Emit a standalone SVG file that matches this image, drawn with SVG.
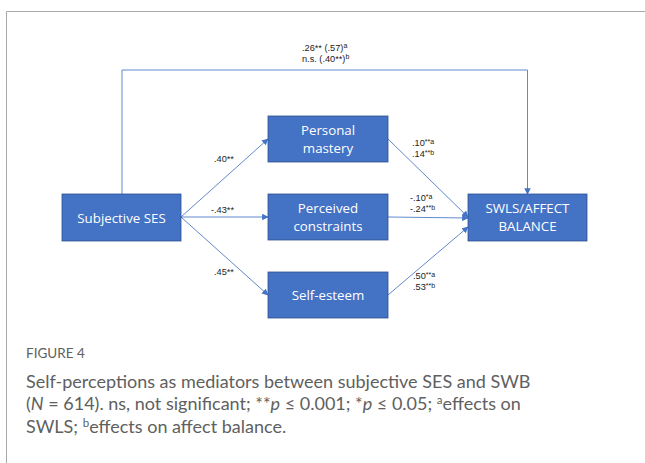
<svg xmlns="http://www.w3.org/2000/svg" width="645" height="463" viewBox="0 0 645 463">
<style>
.box{fill:#4472C4;stroke:#2F528F;stroke-width:0.8}
.bt{font-family:"Open Sans","Liberation Sans",sans-serif;font-size:13.3px;fill:#ffffff;text-anchor:middle}
.lb{font-family:"Liberation Sans",sans-serif;font-size:9.2px;fill:#222}
.sp{font-size:7px}
.ln{stroke:#4F7BC8;stroke-width:0.9;fill:none}
.cap{font-family:Lato,"Open Sans",sans-serif;fill:#606060}
</style>
<defs>
<marker id="ah" viewBox="0 0 10 10" refX="9" refY="5" markerWidth="6.5" markerHeight="6.5" orient="auto" markerUnits="userSpaceOnUse">
<path d="M0,0 L10,5 L0,10 z" fill="#4472C4"/>
</marker>
</defs>
<rect x="0" y="0" width="645" height="463" fill="#ffffff"/>
<path d="M6.5,463 V11.5 H645" fill="none" stroke="#a8a8a8" stroke-width="1"/>
<g id="connectors">
<path class="ln" d="M122,194 V70 H527.5 V194" marker-end="url(#ah)"/>
<line class="ln" x1="181" y1="217" x2="268" y2="139" marker-end="url(#ah)"/>
<line class="ln" x1="181" y1="217" x2="268" y2="217" marker-end="url(#ah)"/>
<line class="ln" x1="181" y1="217" x2="268" y2="295" marker-end="url(#ah)"/>
<line class="ln" x1="388" y1="139" x2="468" y2="217" marker-end="url(#ah)"/>
<line class="ln" x1="388" y1="217" x2="468" y2="218" marker-end="url(#ah)"/>
<line class="ln" x1="388" y1="295" x2="468" y2="227" marker-end="url(#ah)"/>
</g>
<g id="labels">
<text class="lb" x="302" y="51">.26** (.57)<tspan class="sp" dy="-3">a</tspan></text>
<text class="lb" x="302" y="62">n.s. (.40**)<tspan class="sp" dy="-3">b</tspan></text>
<text class="lb" x="214" y="162">.40**</text>
<text class="lb" x="211" y="213">-.43**</text>
<text class="lb" x="214" y="275">.45**</text>
<text class="lb" x="412" y="146">.10<tspan class="sp" dy="-2">**a</tspan></text>
<text class="lb" x="412" y="157">.14<tspan class="sp" dy="-2">**b</tspan></text>
<text class="lb" x="410" y="201">-.10<tspan class="sp" dy="-2">*a</tspan></text>
<text class="lb" x="410" y="212">-.24<tspan class="sp" dy="-2">**b</tspan></text>
<text class="lb" x="413" y="279">.50<tspan class="sp" dy="-2">**a</tspan></text>
<text class="lb" x="413" y="290">.53<tspan class="sp" dy="-2">**b</tspan></text>
</g>
<g id="subjective-ses">
<rect class="box" x="62" y="194" width="119" height="47"/>
<text class="bt" x="121.5" y="223">Subjective SES</text>
</g>
<g id="personal-mastery">
<rect class="box" x="268" y="116" width="120" height="46"/>
<text class="bt" x="328" y="135">Personal</text>
<text class="bt" x="328" y="153">mastery</text>
</g>
<g id="perceived-constraints">
<rect class="box" x="268" y="194" width="120" height="46"/>
<text class="bt" x="328" y="213">Perceived</text>
<text class="bt" x="328" y="231">constraints</text>
</g>
<g id="self-esteem">
<rect class="box" x="268" y="272" width="120" height="46"/>
<text class="bt" x="328" y="300">Self-esteem</text>
</g>
<g id="swls-affect-balance">
<rect class="box" x="468" y="194" width="119" height="47"/>
<text class="bt" x="527.5" y="213">SWLS/AFFECT</text>
<text class="bt" x="527.5" y="231">BALANCE</text>
</g>
<g id="caption">
<text class="cap" x="26" y="358" font-size="13.5">FIGURE 4</text>
<text class="cap" x="26" y="388" font-size="18">Self-perceptions as mediators between subjective SES and SWB</text>
<text class="cap" x="26" y="410" font-size="18">(<tspan font-style="italic">N</tspan> = 614). ns, not significant; **<tspan font-style="italic">p</tspan> ≤ 0.001; *<tspan font-style="italic">p</tspan> ≤ 0.05; <tspan font-size="11.5" dy="-6">a</tspan><tspan dy="6">effects on</tspan></text>
<text class="cap" x="26" y="433" font-size="18">SWLS; <tspan font-size="11.5" dy="-6">b</tspan><tspan dy="6">effects on affect balance.</tspan></text>
</g>
</svg>
